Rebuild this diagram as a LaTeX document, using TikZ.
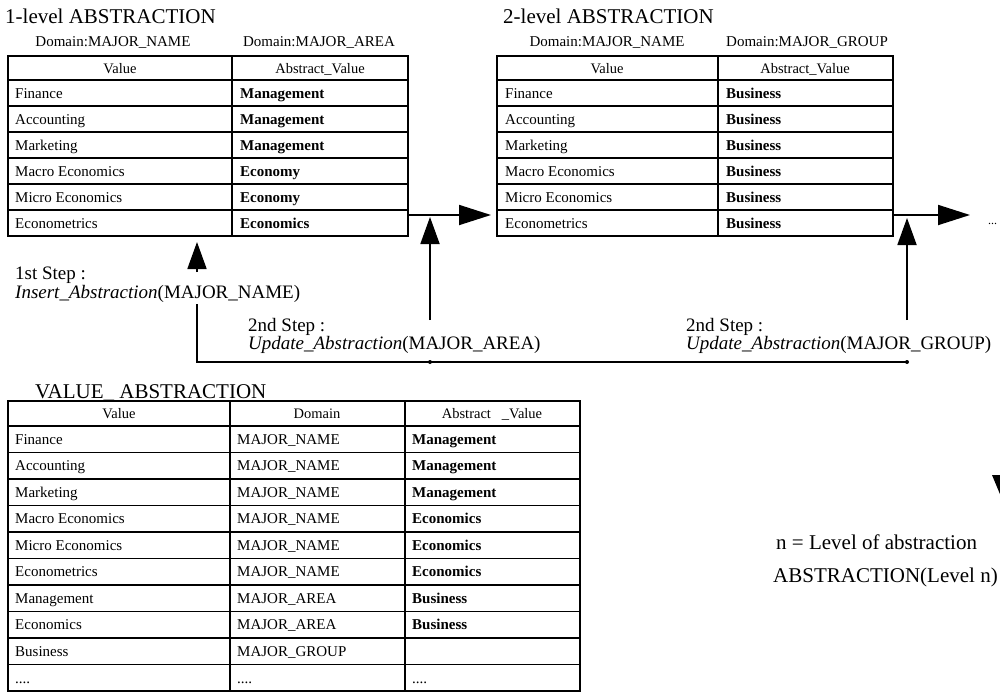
\documentclass[tikz,border=0pt]{standalone}
\usepackage{fontspec}
\setmainfont{Liberation Serif}
\usetikzlibrary{arrows.meta}
\begin{document}
\begin{tikzpicture}[x=1pt,y=-1pt,
  title/.style={anchor=base west,inner sep=0pt,font=\fontsize{21}{24}\selectfont},
  dom/.style={anchor=base,inner sep=0pt,font=\fontsize{15}{18}\selectfont},
  cell/.style={anchor=base west,inner sep=0pt,font=\fontsize{15}{18}\selectfont},
  bcell/.style={anchor=base west,inner sep=0pt,font=\fontsize{15}{18}\selectfont\bfseries},
  head/.style={anchor=base,inner sep=0pt,font=\fontsize{14.5}{17}\selectfont},
  steptxt/.style={anchor=base west,inner sep=0pt,font=\fontsize{19}{22}\selectfont},
  gridline/.style={line width=1.4pt},
  frameline/.style={line width=2pt},
  conn/.style={line width=1.8pt},
  bigtip/.style={-{Triangle[length=32pt,width=20pt]}},
  uptip/.style={-{Triangle[length=27pt,width=19pt]}},
]
\useasboundingbox (0,0) rectangle (1000,693);

% ---------- 1-level table ----------
\node[title] (title1) at (5,24) {1-level ABSTRACTION};
\node[dom] (d1a) at (113,47) {Domain:MAJOR\_NAME};
\node[dom] (d1b) at (319,47) {Domain:MAJOR\_AREA};
\draw[frameline] (8,56) rectangle (408,236);
\draw[gridline] (232,56) -- (232,236);
\foreach \yy in {80,106,132,158,184,210} \draw[gridline] (8,\yy) -- (408,\yy);
\node[head] (t1h1) at (120,73) {Value};
\node[head] (t1h2) at (320,73) {Abstract\_Value};
\foreach \v/\a [count=\i] in {Finance/Management,Accounting/Management,Marketing/Management,Macro Economics/Economy,Micro Economics/Economy,Econometrics/Economics}{
  \node[cell] (t1v\i) at (15,{72+26*\i}) {\v};
  \node[bcell] (t1a\i) at (240,{72+26*\i}) {\a};
}

% ---------- 2-level table ----------
\node[title] (title2) at (503,24) {2-level ABSTRACTION};
\node[dom] (d2a) at (607,47) {Domain:MAJOR\_NAME};
\node[dom] (d2b) at (807,47) {Domain:MAJOR\_GROUP};
\draw[frameline] (497,56) rectangle (893,236);
\draw[gridline] (718,56) -- (718,236);
\foreach \yy in {80,106,132,158,184,210} \draw[gridline] (497,\yy) -- (893,\yy);
\node[head] (t2h1) at (607,73) {Value};
\node[head] (t2h2) at (805,73) {Abstract\_Value};
\foreach \v [count=\i] in {Finance,Accounting,Marketing,Macro Economics,Micro Economics,Econometrics}{
  \node[cell] (t2v\i) at (505,{72+26*\i}) {\v};
  \node[bcell] (t2a\i) at (726,{72+26*\i}) {Business};
}

% ---------- arrows between tables ----------
\coordinate (t1out) at (408,215);
\coordinate (t2in) at (491,215);
\coordinate (t2out) at (893,215);
\coordinate (nextin) at (970,215);
\draw[conn,bigtip] (t1out) -- (t2in);
\draw[conn,bigtip] (t2out) -- (nextin);
\node[anchor=base west,inner sep=0pt,font=\fontsize{12}{14}\selectfont] (more) at (988,224) {...};

% ---------- update arrows ----------
\coordinate (u1s) at (430,320);
\coordinate (u1e) at (430,217);
\coordinate (u2s) at (907,320);
\coordinate (u2e) at (907,218);
\draw[conn,uptip] (u1s) -- (u1e);
\draw[conn,uptip] (u2s) -- (u2e);

% ---------- insert arrow and bottom line ----------
\coordinate (ins0) at (197,362);
\coordinate (ins1) at (197,304);
\coordinate (ins2) at (197,272);
\coordinate (ins3) at (197,242);
\coordinate (tick1) at (430,362);
\coordinate (lend) at (907,362);
\draw[conn] (ins1) -- (ins0) -- (lend);
\draw[conn,uptip] (ins2) -- (ins3);
\fill (tick1) circle (2);
\fill (lend) circle (2);

% ---------- step labels ----------
\node[steptxt] (s1a) at (15,279) {1st Step :};
\node[steptxt] (s1b) at (15,298) {{\itshape Insert\_Abstraction}(MAJOR\_NAME)};
\node[steptxt] (s2a) at (248,331) {2nd Step :};
\node[steptxt] (s2b) at (248,349) {{\itshape Update\_Abstraction}(MAJOR\_AREA)};
\node[steptxt] (s3a) at (686,331) {2nd Step :};
\node[steptxt] (s3b) at (686,349) {{\itshape Update\_Abstraction}(MAJOR\_GROUP)};

% ---------- VALUE_ABSTRACTION table ----------
\node[title] (title3) at (35,398) {VALUE\_ ABSTRACTION};
\draw[frameline] (8,401) rectangle (580,691);
\draw[gridline] (230,401) -- (230,691);
\draw[gridline] (405,401) -- (405,691);
\foreach \k in {0,...,9} \draw[gridline] (8,{426+26.5*\k}) -- (580,{426+26.5*\k});
\node[head] (bh1) at (119,418) {Value};
\node[head] (bh2) at (317,418) {Domain};
\node[head] (bh3) at (492,418) {Abstract\ \ \ \_Value};
\foreach \v/\d/\a [count=\i] in {Finance/MAJOR\_NAME/Management,Accounting/MAJOR\_NAME/Management,Marketing/MAJOR\_NAME/Management,Macro Economics/MAJOR\_NAME/Economics,Micro Economics/MAJOR\_NAME/Economics,Econometrics/MAJOR\_NAME/Economics,Management/MAJOR\_AREA/Business,Economics/MAJOR\_AREA/Business}{
  \node[cell] (bv\i) at (15,{417.75+26.5*\i}) {\v};
  \node[cell] (bd\i) at (237,{417.75+26.5*\i}) {\d};
  \node[bcell] (ba\i) at (412,{417.75+26.5*\i}) {\a};
}
\node[cell] (bv9) at (15,656.25) {Business};
\node[cell] (bd9) at (237,656.25) {MAJOR\_GROUP};
\node[cell] (bv10) at (15,683) {....};
\node[cell] (bd10) at (237,683) {....};
\node[cell] (ba10) at (412,683) {....};

% ---------- legend ----------
\node[title] (leg1) at (776,549) {n = Level of abstraction};
\node[title] (leg2) at (773,582) {ABSTRACTION(Level n)};
\fill (992,475) -- (1002,475) -- (1002,499) -- cycle;
\end{tikzpicture}
\end{document}
